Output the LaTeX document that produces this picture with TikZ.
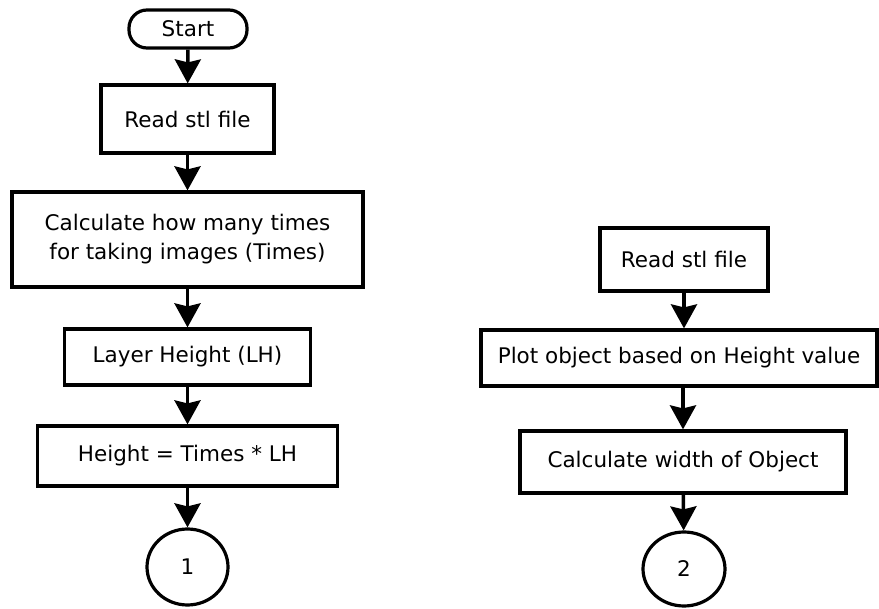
\documentclass[tikz,border=0pt]{standalone}
\usepackage{fontspec}
\setmainfont{DejaVu Sans}
\usetikzlibrary{arrows.meta,shapes.geometric}
\begin{document}
\begin{tikzpicture}[x=1pt,y=-1pt,
  every node/.style={font=\fontsize{21.5}{29}\selectfont, inner sep=0pt},
  box/.style={draw, line width=3.2pt, rectangle, align=center},
  term/.style={draw, line width=3.2pt, rounded corners=18pt, rectangle},
  conn/.style={draw, line width=3.2pt, ellipse},
  flow/.style={line width=3.5pt, -{Stealth[length=24pt 0, width=26pt 0, inset=3pt 0]}}]
\useasboundingbox (0,0) rectangle (879,609);
% left flow
\node[term, minimum width=118pt, minimum height=38pt] (start) at (188,29) {Start};
\node[box, minimum width=173pt, minimum height=68pt] (read) at (187.5,119) {Read stl file};
\node[box, minimum width=351pt, minimum height=95pt] (calc) at (187.5,239.5) {Calculate how many times\\for taking images (Times)};
\node[box, minimum width=246pt, minimum height=56pt] (layer) at (187.5,357) {Layer Height (LH)};
\node[box, minimum width=300pt, minimum height=60pt] (height) at (187.5,456) {Height = Times * LH};
\node[conn, minimum width=81pt, minimum height=76pt] (c1) at (187.5,567) {1};
\draw[flow] (start) -- (read);
\draw[flow] (read) -- (calc);
\draw[flow] (calc) -- (layer);
\draw[flow] (layer) -- (height);
\draw[flow] (height) -- (c1);
% right flow
\node[box, minimum width=168pt, minimum height=63pt] (read2) at (684,259.5) {Read stl file};
\node[box, minimum width=396pt, minimum height=56pt] (plot) at (679,358) {Plot object based on Height value};
\node[box, minimum width=326pt, minimum height=62pt] (width) at (683,462) {Calculate width of Object};
\node[conn, minimum width=82pt, minimum height=74pt] (c2) at (684,569) {2};
\draw[flow] (read2) -- (read2 |- plot.north);
\draw[flow] (plot.south -| width) -- (width);
\draw[flow] (width) -- (c2);
\end{tikzpicture}
\end{document}
